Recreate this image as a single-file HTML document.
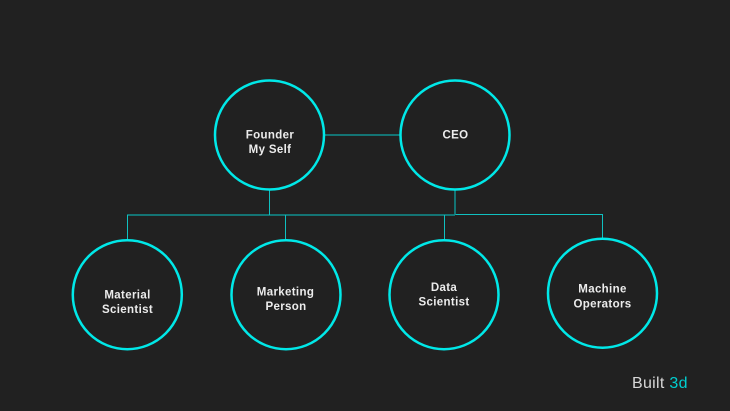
<!DOCTYPE html>
<html><head><meta charset="utf-8"><style>
html,body{margin:0;padding:0;background:#212121}
svg{display:block}
text{font-family:"Liberation Sans",sans-serif;font-weight:700;font-size:11.5px;fill:#ececec;text-anchor:middle;letter-spacing:.35px}
</style></head><body>
<svg width="730" height="411" viewBox="0 0 730 411" xmlns="http://www.w3.org/2000/svg">
<rect width="730" height="411" fill="#212121"/>
<g fill="none">
<path d="M325 135H400M127 215H455" stroke="#119090" stroke-width="1.500"/>
<path d="M269.500 190V215M127.500 215V240M285.500 215V240M444.500 215V240M602.500 214V238M455 214.500H602.500" stroke="#10c0c0" stroke-width="1"/>
<path d="M455 190V215" stroke="#119090" stroke-width="1.500"/>
</g>
<g fill="#212121" stroke="#00e8e8" stroke-width="2.500">
<circle cx="269.500" cy="135" r="54.500"/>
<circle cx="455" cy="135" r="54.500"/>
<circle cx="127.300" cy="294.700" r="54.500"/>
<circle cx="286" cy="294.700" r="54.500"/>
<circle cx="444" cy="294.700" r="54.500"/>
<circle cx="602.500" cy="293.200" r="54.500"/>
</g>
<text x="270" y="138.500">Founder</text><text x="270" y="153">My Self</text>
<text x="455.500" y="138.500">CEO</text>
<text x="127.500" y="298.500">Material</text><text x="127.500" y="313">Scientist</text>
<text x="285.500" y="295.500">Marketing</text><text x="286" y="310">Person</text>
<text x="444" y="291">Data</text><text x="444" y="305.500">Scientist</text>
<text x="602.500" y="292.500">Machine</text><text x="602.500" y="307.500">Operators</text>
<text x="632" y="388" style="font-size:16px;font-weight:400;text-anchor:start;letter-spacing:.3px;fill:#d8d8d8">Built <tspan fill="#00cfd0">3d</tspan></text>
</svg>
</body></html>
